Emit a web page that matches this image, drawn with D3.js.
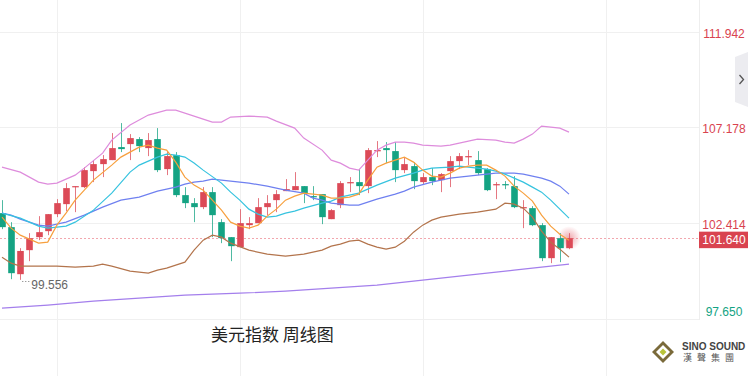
<!DOCTYPE html>
<html>
<head>
<meta charset="utf-8">
<script src="https://cdn.jsdelivr.net/npm/d3@7"></script>
<style>
  body { margin: 0; background: #fff; }
  svg { display: block; font-family: "Liberation Sans", Arial, sans-serif; }
</style>
</head>
<body>
<svg id="chart" width="748" height="376"></svg>
<script>
// weekly candles
const opens  = [102.89,102.19,99.84,101.04,101.69,101.99,102.84,103.34,104.19,104.19,104.99,105.34,105.54,106.19,106.34,106.59,106.14,106.59,105.09,105.79,103.79,103.39,103.19,103.94,102.44,101.69,101.19,102.29,102.39,103.19,103.54,103.99,104.04,104.24,103.74,103.84,102.59,103.29,104.39,104.44,104.24,105.99,106.14,105.99,105.04,105.24,104.44,104.69,104.54,104.99,105.49,105.69,105.54,105.09,104.29,104.34,104.24,103.14,103.14,102.29,100.64,101.64,101.14];
const highs  = [103.54,102.44,101.14,101.89,102.74,102.84,103.59,104.39,104.24,105.19,105.54,105.79,106.89,107.39,106.84,106.69,106.89,107.14,105.94,105.94,104.19,103.64,104.19,104.19,102.59,101.69,103.09,102.69,103.64,103.79,104.04,104.59,104.94,104.24,104.24,103.84,103.09,104.49,104.69,105.09,106.14,106.49,106.44,106.44,105.69,105.44,104.89,105.14,104.89,105.74,105.89,106.04,105.99,105.14,104.44,104.49,104.74,103.54,103.24,102.39,101.69,101.89,101.89];
const lows   = [102.09,99.59,99.556,100.49,101.54,101.79,102.69,102.99,102.94,104.14,104.44,104.69,105.54,105.94,105.54,105.94,105.74,104.94,104.79,103.69,103.14,102.44,103.09,101.69,101.39,100.49,101.19,102.09,102.39,102.79,102.94,103.99,104.04,103.39,103.54,102.34,102.59,103.14,103.94,103.79,103.89,105.69,105.39,104.44,104.89,104.09,104.34,104.29,103.94,104.19,105.09,105.29,104.79,103.99,103.59,104.09,103.14,102.14,102.24,100.49,100.39,100.44,101.09];
const closes = [102.19,99.89,101.00,101.64,101.94,102.84,103.39,104.14,104.24,105.04,105.34,105.59,106.14,106.09,106.64,106.24,106.54,105.04,105.74,103.79,103.39,103.19,103.94,102.79,101.64,101.24,102.39,102.39,103.19,103.39,103.84,104.09,104.24,103.89,103.69,102.69,103.04,104.39,104.44,104.24,106.04,106.04,106.04,105.04,105.34,104.49,104.69,104.49,104.84,105.49,105.74,105.74,104.89,104.04,104.34,104.29,103.19,103.19,102.29,100.64,101.69,101.14,101.64];
const weeks = d3.range(opens.length);

// indicator lines as [week, value]
const ma5 = [[0,102.69],[1,102.14],[2,101.79],[4,101.39],[5,101.44],[6,102.29],[7,102.89],[8,103.54],[10,104.54],[12,105.29],[13,105.69],[14,105.94],[15,106.19],[16,106.29],[17,106.14],[18,106.04],[19,105.44],[20,104.69],[21,104.29],[22,104.04],[23,103.54],[24,103.04],[25,102.44],[26,102.24],[27,102.14],[28,102.29],[29,102.74],[30,103.09],[31,103.54],[32,103.74],[33,103.89],[34,103.84],[35,103.79],[36,103.64],[37,103.64],[38,103.69],[39,103.84],[40,104.54],[41,105.19],[42,105.39],[43,105.54],[44,105.69],[45,105.44],[46,105.04],[47,104.74],[48,104.69],[49,104.89],[50,105.14],[51,105.24],[52,105.29],[53,105.29],[54,105.04],[55,104.74],[56,104.24],[57,103.89],[58,103.49],[59,102.79],[60,102.24],[61,101.84],[62,101.54]];
const ma10 = [[0,102.89],[2,102.64],[4,102.24],[5,102.14],[7,102.24],[8,102.44],[10,103.04],[12,103.89],[14,104.94],[15,105.29],[17,105.69],[18,105.84],[19,105.79],[20,105.69],[21,105.39],[22,105.04],[24,104.39],[25,103.94],[26,103.54],[27,103.09],[28,102.84],[29,102.69],[30,102.74],[31,102.89],[32,102.99],[33,103.14],[35,103.39],[36,103.49],[37,103.69],[39,103.89],[40,104.09],[41,104.29],[43,104.64],[45,104.89],[46,105.04],[47,105.14],[49,105.19],[50,105.24],[51,105.19],[52,105.14],[53,105.09],[54,104.99],[55,104.84],[56,104.64],[57,104.44],[58,104.19],[59,103.94],[60,103.54],[61,103.09],[62,102.64]];
const ma20 = [[0,102.89],[1,102.79],[2,102.59],[4,102.29],[5,102.24],[7,102.44],[9,102.79],[10,102.99],[11,103.19],[13,103.54],[15,103.69],[17,103.99],[19,104.19],[20,104.34],[21,104.44],[22,104.49],[23,104.59],[24,104.54],[27,104.39],[29,104.24],[31,104.04],[33,103.89],[34,103.64],[35,103.54],[36,103.39],[37,103.34],[38,103.29],[39,103.29],[40,103.44],[41,103.59],[43,103.84],[44,103.99],[45,104.19],[47,104.44],[49,104.64],[51,104.74],[52,104.79],[54,104.89],[56,104.89],[57,104.84],[58,104.74],[59,104.64],[60,104.49],[61,104.24],[62,103.84]];
const bollUpper = [[0,105.19],[2,104.94],[4,104.44],[5,104.34],[6,104.39],[8,104.79],[9,105.14],[11,105.89],[12,106.54],[14,107.29],[16,107.79],[18,108.04],[19,108.04],[21,107.74],[22,107.59],[23,107.44],[24,107.44],[25,107.69],[27,107.74],[29,107.69],[30,107.49],[32,107.14],[33,106.64],[35,106.04],[36,105.54],[37,105.39],[38,105.14],[39,105.04],[40,105.54],[41,106.04],[42,106.29],[43,106.44],[44,106.44],[45,106.39],[46,106.29],[48,106.24],[49,106.29],[51,106.49],[52,106.59],[54,106.54],[55,106.44],[56,106.39],[57,106.59],[58,106.84],[59,107.24],[60,107.19],[61,107.14],[62,106.94]];
const bollLower = [[0,100.69],[1,100.39],[2,100.24],[4,100.24],[6,100.24],[8,100.19],[10,100.24],[11,100.34],[12,100.24],[14,99.99],[16,99.89],[17,100.04],[18,100.14],[19,100.29],[20,100.44],[21,101.04],[22,101.54],[23,101.79],[24,101.69],[25,101.39],[27,101.04],[29,100.84],[31,100.74],[33,100.84],[35,101.04],[36,101.24],[37,101.34],[38,101.49],[39,101.54],[40,101.34],[41,101.19],[42,101.09],[43,101.19],[44,101.49],[45,101.94],[46,102.29],[47,102.54],[48,102.69],[50,102.84],[52,102.94],[54,103.09],[55,103.39],[56,103.34],[57,103.14],[58,102.69],[59,101.99],[60,101.44],[61,101.09],[62,100.69]];
const maLong = [[0,98.14],[5,98.29],[10,98.49],[15,98.64],[20,98.79],[26,98.89],[31,98.99],[36,99.14],[41,99.29],[46,99.54],[51,99.79],[56,100.04],[62,100.34]];

const yTicks = [97.650, 102.414, 107.178, 111.942];
const gridWeeks = [6, 26, 46, 66];
const lastPrice = 101.640;
const lowWeek = 2;
const lowValue = 99.556;
const title = '美元指数 周线图';

const svg = d3.select('#chart');
const width = 748, height = 376;
const plotRight = 699, plotBottom = 320;

const x = d3.scaleLinear().domain([0, 62]).range([2, 569]);
const y = d3.scaleLinear().domain([97.650, 111.942]).range([318, 32]);
const bodyW = 6.6;

const upColor = '#dc4a57';
const downColor = '#14a383';

// grid
svg.append('g').selectAll('line').data(gridWeeks).join('line')
  .attr('x1', d => Math.round(x(d)) + 0.5).attr('x2', d => Math.round(x(d)) + 0.5)
  .attr('y1', 0).attr('y2', height)
  .attr('stroke', '#f0f0f0');

svg.append('g').selectAll('line').data(yTicks.slice(1)).join('line')
  .attr('x1', 0).attr('x2', plotRight)
  .attr('y1', d => Math.round(y(d)) + 0.5).attr('y2', d => Math.round(y(d)) + 0.5)
  .attr('stroke', '#f0f0f0');

svg.append('line').attr('x1', 0).attr('x2', plotRight)
  .attr('y1', plotBottom - 0.5).attr('y2', plotBottom - 0.5).attr('stroke', '#f0f0f0');
svg.append('line').attr('x1', plotRight + 0.5).attr('x2', plotRight + 0.5)
  .attr('y1', 0).attr('y2', plotBottom).attr('stroke', '#eeeeee');

// last price dotted line
svg.append('line')
  .attr('x1', 0).attr('x2', plotRight)
  .attr('y1', Math.round(y(lastPrice)) + 0.5).attr('y2', Math.round(y(lastPrice)) + 0.5)
  .attr('stroke', '#f2a7ae').attr('stroke-dasharray', '2,2');

// glow on the last candle
const defs = svg.append('defs');
const grad = defs.append('radialGradient').attr('id', 'glow');
grad.append('stop').attr('offset', '0%').attr('stop-color', '#e0505c').attr('stop-opacity', 0.5);
grad.append('stop').attr('offset', '100%').attr('stop-color', '#e0505c').attr('stop-opacity', 0);
svg.append('circle')
  .attr('cx', x(weeks.length - 1)).attr('cy', y(lastPrice)).attr('r', 12)
  .attr('fill', 'url(#glow)');

// candles
const candles = svg.append('g').selectAll('g').data(weeks).join('g');
candles.append('line')
  .attr('x1', i => Math.round(x(i)) + 0.5).attr('x2', i => Math.round(x(i)) + 0.5)
  .attr('y1', i => y(highs[i])).attr('y2', i => y(lows[i]))
  .attr('stroke', i => closes[i] >= opens[i] ? upColor : downColor)
  .attr('stroke-opacity', 0.75);
candles.append('rect')
  .attr('x', i => Math.round(x(i)) + 0.5 - bodyW / 2)
  .attr('width', bodyW)
  .attr('y', i => y(Math.max(opens[i], closes[i])))
  .attr('height', i => Math.max(1.2, Math.abs(y(opens[i]) - y(closes[i]))))
  .attr('fill', i => closes[i] >= opens[i] ? upColor : downColor);

// indicator lines
const line = d3.line().x(d => x(d[0])).y(d => y(d[1]));
const series = [
  [maLong, '#a47fec'],
  [bollUpper, '#de8cdc'],
  [bollLower, '#b3744c'],
  [ma20, '#6f80f0'],
  [ma10, '#36c3df'],
  [ma5, '#f7a03e']
];
svg.append('g').selectAll('path').data(series).join('path')
  .attr('d', d => line(d[0]))
  .attr('fill', 'none')
  .attr('stroke', d => d[1])
  .attr('stroke-width', 1.2);

// lowest price marker
const lowY = Math.round(y(lowValue)) + 1.5;
svg.append('line')
  .attr('x1', x(lowWeek) + 2).attr('x2', x(lowWeek) + 10)
  .attr('y1', lowY).attr('y2', lowY)
  .attr('stroke', '#777').attr('stroke-dasharray', '1,2');
svg.append('text')
  .attr('x', x(lowWeek) + 11).attr('y', lowY + 7)
  .attr('font-size', 12).attr('fill', '#666')
  .text(lowValue.toFixed(3));

// right axis labels
svg.append('g').selectAll('text').data(yTicks).join('text')
  .attr('x', 724)
  .attr('y', (d, i) => i === 0 ? y(d) - 2 : y(d) + 6)
  .attr('text-anchor', 'middle')
  .attr('font-size', 12)
  .attr('fill', d => d < lastPrice ? '#13a383' : '#d9434f')
  .text(d => d.toFixed(3));

// price tag
svg.append('rect')
  .attr('x', plotRight).attr('y', y(lastPrice) - 6.5)
  .attr('width', width - plotRight).attr('height', 16.5)
  .attr('fill', '#d9434f');
svg.append('text')
  .attr('x', 724).attr('y', y(lastPrice) + 6)
  .attr('text-anchor', 'middle').attr('font-size', 12).attr('fill', '#fff')
  .text(lastPrice.toFixed(3));

// collapse tab
svg.append('path')
  .attr('d', 'M735,57 L748,52 L748,107 L735,102 Z')
  .attr('fill', '#ececf0');
svg.append('path')
  .attr('d', 'M739.5,75 L743.5,79.5 L739.5,84')
  .attr('fill', 'none').attr('stroke', '#555').attr('stroke-width', 1.3);

// title
svg.append('text')
  .attr('x', 211).attr('y', 341)
  .attr('font-family', '"Noto Sans CJK SC", sans-serif')
  .attr('font-size', 17).attr('fill', '#222')
  .text(title);

// watermark logo
const logo = svg.append('g');
logo.append('path').attr('d', 'M663,341 L674,352 L663,363 L652,352 Z').attr('fill', '#7a6a3a');
logo.append('path').attr('d', 'M663,345 L670,352 L663,359 L656,352 Z').attr('fill', '#fff');
logo.append('path').attr('d', 'M663,348.5 L666.5,352 L663,355.5 L659.5,352 Z').attr('fill', '#b9c43a');
logo.append('text').attr('x', 682).attr('y', 350)
  .attr('font-size', 10).attr('font-weight', 'bold').attr('fill', '#444')
  .text('SINO SOUND');
logo.append('text').attr('x', 683).attr('y', 361)
  .attr('font-family', '"Noto Sans CJK TC", sans-serif')
  .attr('font-size', 9).attr('fill', '#555').attr('letter-spacing', 5)
  .text('漢聲集團');
</script>
</body>
</html>
